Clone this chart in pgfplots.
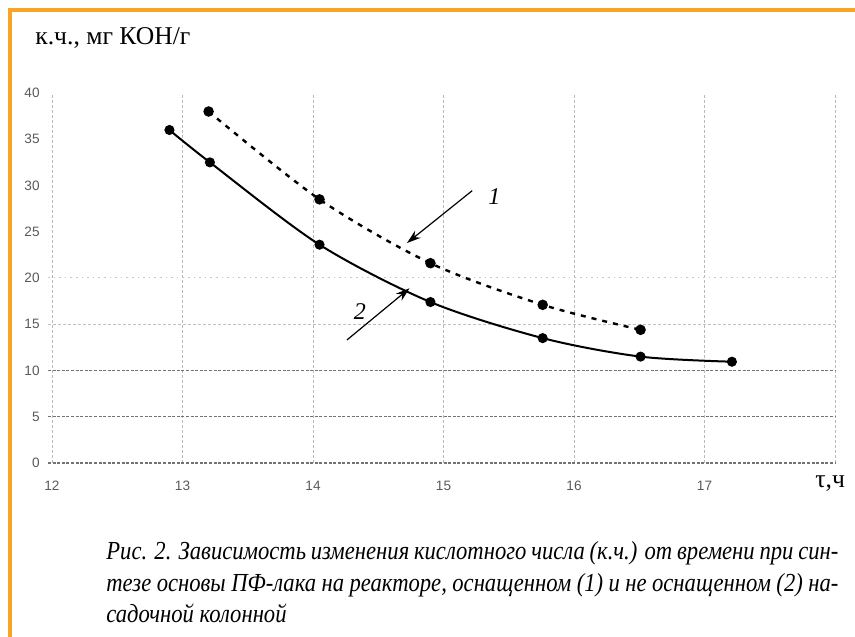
\documentclass[border=0pt]{standalone}
\usepackage{fontspec}
\setmainfont{Liberation Serif}
\newfontfamily\ticksfont{Liberation Sans}
\newfontfamily\capfont[FakeStretch=0.87]{Liberation Serif}
\usepackage{pgfplots}
\pgfplotsset{compat=1.18}
\usetikzlibrary{arrows.meta}
\definecolor{frameorange}{RGB}{247,165,35}
\begin{document}
\begin{tikzpicture}[x=1pt,y=1pt]
\useasboundingbox (0,0) rectangle (427.5,318);
\draw[frameorange, line width=1.6pt] (5,-2) -- (5,313) -- (430,313);
\begin{axis}[
  at={(26pt,86.5pt)}, anchor=south west,
  scale only axis, width=391.5pt, height=185pt,
  xmin=12, xmax=18, ymin=0, ymax=40,
  xtick={12,13,14,15,16,17}, ytick={0,5,...,40},
  axis line style={draw=none},
  major tick length=0pt,
  /pgf/number format/assume math mode=true,
  tick label style={font=\ticksfont\fontsize{6.8}{7}\selectfont, text=black!65},
  yticklabel style={anchor=east, inner sep=0pt, xshift=-6pt},
  xticklabel style={anchor=north, inner sep=0pt, yshift=-9pt},
  clip=false,
]
% vertical grid
\foreach \xv in {12,13,14,15,16,17,18}{
  \edef\tmp{\noexpand\draw[black!28, line width=0.5pt, dash pattern=on 1.5pt off 1pt] (axis cs:\xv,0) -- (axis cs:\xv,40);}\tmp
}
% horizontal grid
\foreach \yv in {0,5,10}{
  \edef\tmp{\noexpand\draw[black!55, line width=0.6pt, dash pattern=on 1.5pt off 0.8pt] (axis cs:11.97,\yv) -- (axis cs:18,\yv);}\tmp
}
\draw[black!25, line width=0.5pt, dash pattern=on 1.5pt off 1pt] (axis cs:11.97,15) -- (axis cs:18,15);
\draw[black!22, line width=0.5pt, dash pattern=on 0.8pt off 2pt] (axis cs:11.97,20) -- (axis cs:18,20);
% curve 2 (solid)
\addplot[black, line width=1pt, smooth, tension=0.5, mark=*, mark size=2pt, mark options={solid}]
  coordinates {(12.90,36.0) (13.21,32.5) (14.05,23.6) (14.90,17.4) (15.76,13.5) (16.51,11.5) (17.21,10.95)};
% curve 1 (dashed)
\addplot[black, line width=1.2pt, smooth, tension=0.5, dash pattern=on 2.5pt off 3pt, mark=*, mark size=2pt, mark options={solid}]
  coordinates {(13.20,38.0) (14.05,28.5) (14.90,21.6) (15.76,17.1) (16.51,14.4)};
% arrows and labels
\draw[-{Stealth[length=7pt,width=4.5pt]}, line width=0.6pt] (axis cs:15.22,29.44) -- (axis cs:14.72,23.78);
\draw[-{Stealth[length=7pt,width=4.5pt]}, line width=0.6pt] (axis cs:14.26,13.30) -- (axis cs:14.74,18.89);
\node[font=\itshape\fontsize{12}{13}\selectfont] at (axis cs:15.39,28.76) {1};
\node[font=\itshape\fontsize{12}{13}\selectfont] at (axis cs:14.36,16.36) {2};
\end{axis}
\node[anchor=base west, inner sep=0pt, font=\fontsize{12.8}{14}\selectfont] at (17.5,295.5) {к.ч., мг КОН/г};
\node[anchor=base west, inner sep=0pt, font=\fontsize{12.8}{14}\selectfont] at (407.5,74) {τ,ч};
\node[anchor=base west, inner sep=0pt, font=\capfont\itshape\fontsize{13}{15}\selectfont] at (53,38.25) {\hbox to 366pt{Рис. 2. Зависимость изменения кислотного числа (к.ч.) от времени при син-}};
\node[anchor=base west, inner sep=0pt, font=\capfont\itshape\fontsize{13}{15}\selectfont] at (53,22.25) {\hbox to 366pt{тезе основы ПФ-лака на реакторе, оснащенном (1) и не оснащенном (2) на-}};
\node[anchor=base west, inner sep=0pt, font=\capfont\itshape\fontsize{13}{15}\selectfont] at (53,6.5) {садочной колонной};
\end{tikzpicture}
\end{document}
